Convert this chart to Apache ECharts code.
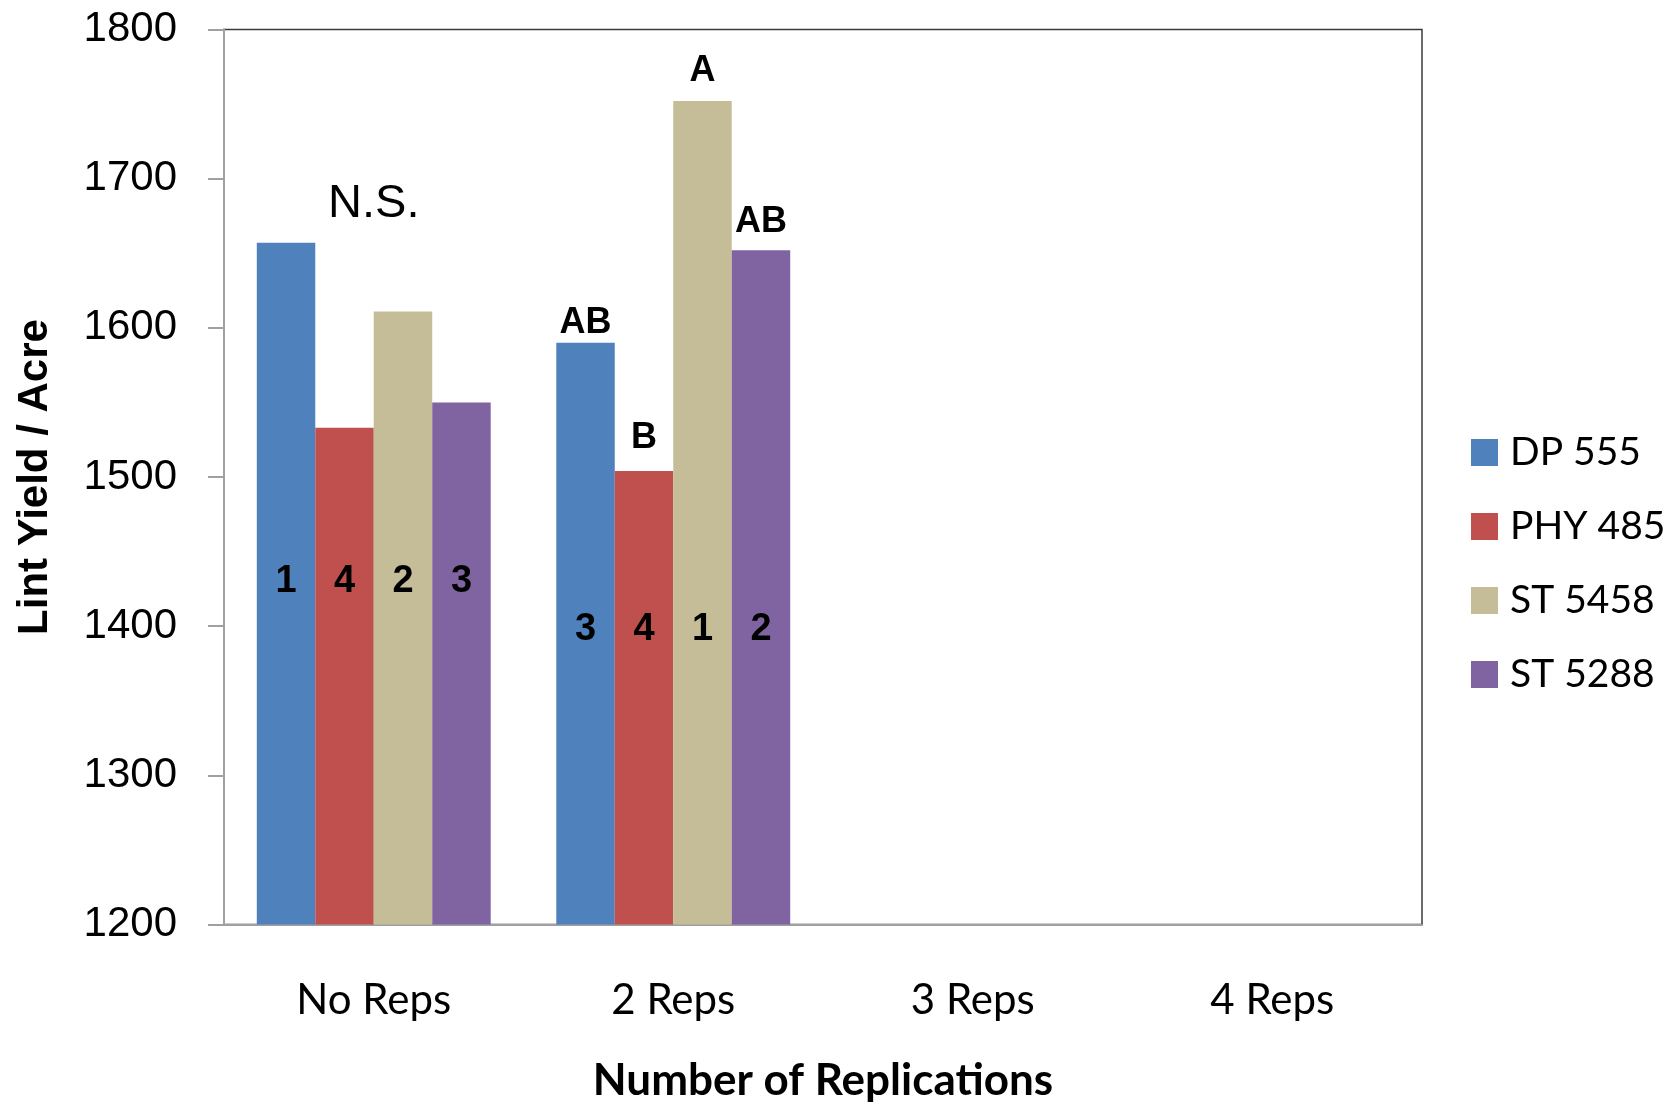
<!DOCTYPE html>
<html>
<head>
<meta charset="utf-8">
<script src="https://cdn.jsdelivr.net/npm/echarts@6/dist/echarts.min.js"></script>
<style>
html,body{margin:0;padding:0;background:#fff;}
#chart{width:1675px;height:1102px;}
</style>
</head>
<body>
<div id="chart"></div>
<script>
// ---- data ----
const categories = ['No Reps', '2 Reps', '3 Reps', '4 Reps'];
const seriesNames = ['DP 555', 'PHY 485', 'ST 5458', 'ST 5288'];
const dp555  = [1657, 1590, '-', '-'];
const phy485 = [1533, 1504, '-', '-'];
const st5458 = [1611, 1752, '-', '-'];
const st5288 = [1550, 1652, '-', '-'];
const yTicks = [1200, 1300, 1400, 1500, 1600, 1700, 1800];
// significance letters above bars
const dp555Letters  = ['', 'AB', '', ''];
const phy485Letters = ['', 'B', '', ''];
const st5458Letters = ['', 'A', '', ''];
const st5288Letters = ['', 'AB', '', ''];
// rank numbers inside bars
const dp555Ranks  = [1, 3, '', ''];
const phy485Ranks = [4, 4, '', ''];
const st5458Ranks = [2, 1, '', ''];
const st5288Ranks = [3, 2, '', ''];
// value level at which rank numbers and group note are written
const rankLevel = [1430, 1398, '-', '-'];
const groupNote = ['N.S.', '', '', ''];
const groupNoteLevel = [1683, '-', '-', '-'];

// ---- styles ----
const colors = ['#4F81BD', '#C0504D', '#C4BD97', '#8064A2'];
const letterGap = [[0, 1.5, 0, 0], [0, 15, 0, 0], [0, 12, 0, 0], [0, 10, 0, 0]];
const values = [dp555, phy485, st5458, st5288];
const letters = [dp555Letters, phy485Letters, st5458Letters, st5288Letters];
const ranks = [dp555Ranks, phy485Ranks, st5458Ranks, st5288Ranks];
const CAT_GAP = '21.9%';

const chart = echarts.init(document.getElementById('chart'), null, {renderer: 'canvas'});

const series = [];
values.forEach((vals, i) => {
  series.push({
    name: seriesNames[i],
    type: 'bar',
    xAxisIndex: 0,
    barGap: '0%',
    barCategoryGap: CAT_GAP,
    itemStyle: {color: colors[i]},
    data: vals.map((v, j) => ({
      value: v,
      label: {
        show: !!letters[i][j],
        formatter: letters[i][j],
        position: 'top',
        distance: letterGap[i][j],
        fontFamily: 'Liberation Sans, Arial, sans-serif',
        fontWeight: 'bold',
        fontSize: 36,
        lineHeight: 36,
        color: '#000'
      }
    })),
    emphasis: {disabled: true}
  });
});
// rank labels (transparent helper bars aligned with the real ones)
ranks.forEach((r, i) => {
  series.push({
    name: 'rank-' + seriesNames[i],
    type: 'bar',
    xAxisIndex: 1,
    barGap: '0%',
    barCategoryGap: CAT_GAP,
    silent: true,
    itemStyle: {color: 'rgba(0,0,0,0)'},
    data: rankLevel.map((lv, j) => ({
      value: r[j] === '' ? '-' : lv,
      label: {
        show: r[j] !== '',
        formatter: String(r[j]),
        position: 'top',
        distance: 0,
        verticalAlign: 'middle',
        fontFamily: 'Liberation Sans, Arial, sans-serif',
        fontWeight: 'bold',
        fontSize: 38,
        lineHeight: 38,
        color: '#000'
      }
    })),
    emphasis: {disabled: true}
  });
});
// group note (N.S.)
series.push({
  name: 'note',
  type: 'bar',
  xAxisIndex: 2,
  silent: true,
  itemStyle: {color: 'rgba(0,0,0,0)'},
  data: groupNoteLevel.map((lv, j) => ({
    value: lv,
    label: {
      show: !!groupNote[j],
      formatter: groupNote[j],
      position: 'top',
      distance: 0,
      verticalAlign: 'middle',
      fontFamily: 'Liberation Sans, Arial, sans-serif',
      fontSize: 47,
      lineHeight: 47,
      color: '#000'
    }
  })),
  emphasis: {disabled: true}
});

const option = {
  animation: false,
  backgroundColor: '#fff',
  grid: {
    left: 224, right: 253, top: 29.5, bottom: 177.5,
    show: true, borderColor: '#3a3a3a', borderWidth: 1.5,
    containLabel: false, outerBoundsMode: 'none'
  },
  legend: {
    data: seriesNames,
    orient: 'vertical',
    left: 1466,
    top: 428,
    itemWidth: 27,
    itemHeight: 27,
    itemGap: 35,
    icon: 'rect',
    selectedMode: false,
    textStyle: {
      fontFamily: 'Lato, sans-serif',
      fontSize: 39,
      color: '#000',
      padding: [0, 0, 0, 7]
    }
  },
  xAxis: [
    {
      type: 'category',
      data: categories,
      axisLine: {show: true, lineStyle: {color: '#a0a0a0', width: 2}},
      axisTick: {show: false},
      axisLabel: {
        fontFamily: 'Lato, sans-serif',
        fontSize: 42,
        color: '#000',
        margin: 55
      },
      name: 'Number of Replications',
      nameLocation: 'middle',
      nameGap: 134,
      nameTextStyle: {
        fontFamily: 'Lato, sans-serif',
        fontWeight: 'bold',
        fontSize: 44,
        color: '#000'
      }
    },
    {type: 'category', data: categories, show: false},
    {type: 'category', data: categories, show: false}
  ],
  yAxis: {
    type: 'value',
    min: yTicks[0],
    max: yTicks[yTicks.length - 1],
    interval: 100,
    splitLine: {show: false},
    axisLine: {show: true, lineStyle: {color: '#a0a0a0', width: 2}},
    axisTick: {show: true, length: 16, lineStyle: {color: '#a0a0a0', width: 2}},
    axisLabel: {
      fontFamily: 'Liberation Sans, Arial, sans-serif',
      fontSize: 42,
      color: '#000',
      margin: 47,
      formatter: v => String(v)
    },
    name: 'Lint Yield / Acre',
    nameLocation: 'middle',
    nameRotate: 90,
    nameGap: 168,
    nameTextStyle: {
      fontFamily: 'Liberation Sans, Arial, sans-serif',
      fontWeight: 'bold',
      fontSize: 42,
      color: '#000'
    }
  },
  series: series
};
chart.setOption(option);
</script>
</body>
</html>
